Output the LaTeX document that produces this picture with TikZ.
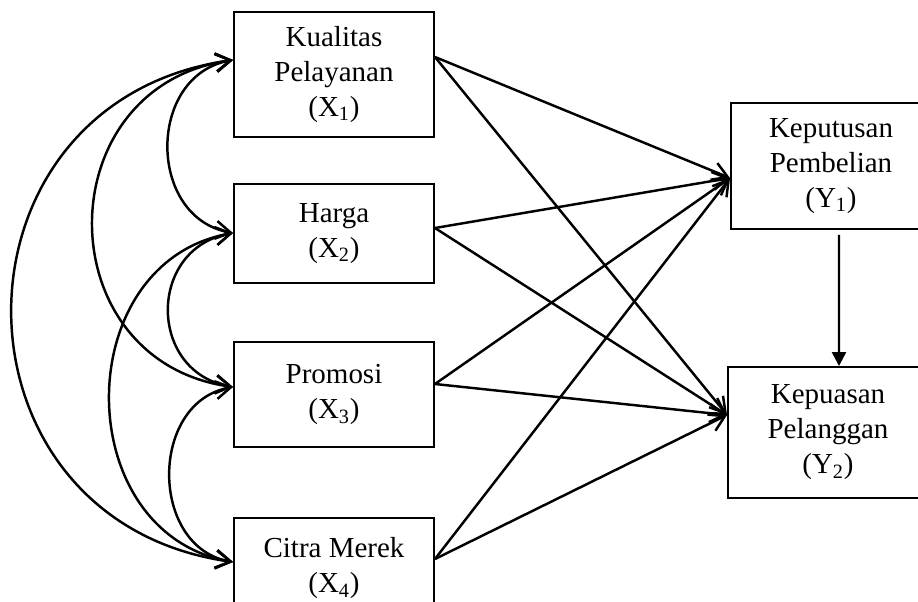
\documentclass[tikz,border=0pt]{standalone}
\usepackage{fontspec}
\setmainfont{Liberation Serif}
\usetikzlibrary{arrows.meta}

\tikzset{
  varbox/.style={draw, line width=1.1pt, minimum width=4cm, align=center,
    font=\fontsize{16.5}{19.9}\selectfont},
  effect/.style={line width=1.4pt, -{Straight Barb[length=3mm,width=3.6mm]}},
  corr/.style={line width=1.4pt,
    {Straight Barb[length=3mm,width=3.6mm]}-{Straight Barb[length=3mm,width=3.6mm]}},
  mediate/.style={line width=1.4pt, -{Triangle[length=2.8mm,width=2.8mm]}}
}

\begin{document}
\begin{tikzpicture}
        \clip (0,0) rectangle (18.36,-12.04);

        % independent variables
        \node[varbox, minimum height=2.5cm] (x1) at (6.68,-1.49) {Kualitas\\Pelayanan\\(X\textsubscript{1})};
        \node[varbox, minimum height=1.98cm] (x2) at (6.68,-4.67) {Harga\\(X\textsubscript{2})};
        \node[varbox, minimum height=2.1cm] (x3) at (6.68,-7.89) {Promosi\\(X\textsubscript{3})};
        \node[varbox, minimum height=2cm] (x4) at (6.68,-11.36) {Citra Merek\\(X\textsubscript{4})};

        % dependent variables
        \node[varbox, minimum height=2.52cm] (y1) at (16.62,-3.32) {Keputusan\\Pembelian\\(Y\textsubscript{1})};
        \node[varbox, minimum height=2.62cm] (y2) at (16.56,-8.65) {Kepuasan\\Pelanggan\\(Y\textsubscript{2})};

        \coordinate (x1l) at ([yshift=2.9mm]x1.west);
        \coordinate (x1r) at ([yshift=3.5mm]x1.east);
        \coordinate (x2l) at ([yshift=0.1mm]x2.west);
        \coordinate (x2r) at ([yshift=1.1mm]x2.east);
        \coordinate (x3l) at ([yshift=1.5mm]x3.west);
        \coordinate (x3r) at ([yshift=2.1mm]x3.east);
        \coordinate (x4l) at ([yshift=1.2mm]x4.west);
        \coordinate (x4r) at ([yshift=1.8mm]x4.east);
        \coordinate (y1l) at ([yshift=-2.4mm]y1.west);
        \coordinate (y2l) at ([yshift=3.5mm]y2.west);

        % correlations
        \draw[corr] (x1l) to[out=190,in=170,looseness=1.3] (x2l);
        \draw[corr] (x2l) to[out=190,in=170,looseness=1.45] (x3l);
        \draw[corr] (x3l) to[out=190,in=170,looseness=1.25] (x4l);
        \draw[corr] (x1l) to[out=188,in=172,looseness=1.48] (x3l);
        \draw[corr] (x2l) to[out=190,in=170,looseness=1.3] (x4l);
        \draw[corr] (x1l) to[out=188,in=172,looseness=1.52] (x4l);

        % direct effects
        \draw[effect] (x1r) -- (y1l);
        \draw[effect] (x1r) -- (y2l);
        \draw[effect] (x2r) -- (y1l);
        \draw[effect] (x2r) -- (y2l);
        \draw[effect] (x3r) -- (y1l);
        \draw[effect] (x3r) -- (y2l);
        \draw[effect] (x4r) -- (y1l);
        \draw[effect] (x4r) -- (y2l);

        \draw[mediate] ([xshift=1.6mm,yshift=-1mm]y1.south) -- ([xshift=2.2mm]y2.north);

    \end{tikzpicture}
\end{document}
